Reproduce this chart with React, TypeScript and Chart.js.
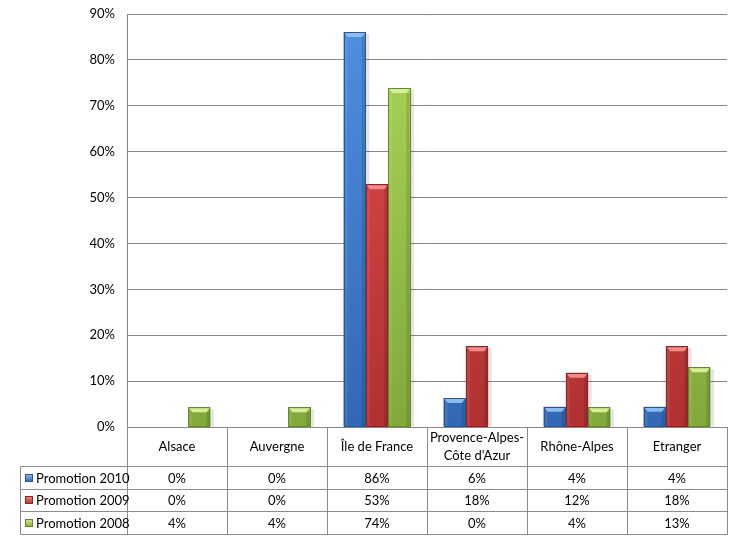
import { useEffect, useRef } from 'react';
import { Chart, registerables } from 'chart.js';

Chart.register(...registerables);

const categories: string[][] = [
  ['Alsace'],
  ['Auvergne'],
  ['Île de France'],
  ['Provence-Alpes-', "Côte d'Azur"],
  ['Rhône-Alpes'],
  ['Etranger'],
];
const seriesNames = ['Promotion 2010', 'Promotion 2009', 'Promotion 2008'];
const promo2010 = [0, 0, 86.1, 6.3, 4.4, 4.4];
const promo2009 = [0, 0, 52.9, 17.6, 11.8, 17.6];
const promo2008 = [4.3, 4.3, 73.9, 0, 4.3, 13.0];
const yMax = 90;
const yStep = 10;

const FONT = 'Lato, "Open Sans", "DejaVu Sans", sans-serif';

const palette = [
  { top: '#4F90E2', bottom: '#3268B4', border: '#2A5593', hi: '#8ABBF3' },
  { top: '#E44C4C', bottom: '#B03131', border: '#8C2424', hi: '#F28A8A' },
  { top: '#ACD659', bottom: '#82A83B', border: '#67872C', hi: '#D4EF96' },
];

const seriesValues = [promo2010, promo2009, promo2008];

const barStyle = {
  id: 'barStyle',
  beforeDatasetsDraw(chart: any) {
    const ctx = chart.ctx;
    ctx.save();
    chart.data.datasets.forEach((ds: any, di: number) => {
      const meta = chart.getDatasetMeta(di);
      meta.data.forEach((el: any, i: number) => {
        if (!ds.data[i]) return;
        const p = el.getProps(['x', 'y', 'base', 'width'], true);
        const l = p.x - p.width / 2;
        ctx.fillStyle = 'rgba(0,0,0,0.10)';
        ctx.fillRect(l + 2, p.y + 2, p.width + 1.5, p.base - p.y - 2);
      });
    });
    ctx.restore();
  },
  afterDatasetsDraw(chart: any) {
    const ctx = chart.ctx;
    ctx.save();
    chart.data.datasets.forEach((ds: any, di: number) => {
      const meta = chart.getDatasetMeta(di);
      const c = palette[di];
      meta.data.forEach((el: any, i: number) => {
        if (!ds.data[i]) return;
        const p = el.getProps(['x', 'y', 'base', 'width'], true);
        const l = p.x - p.width / 2;
        const r = p.x + p.width / 2;
        const h = p.base - p.y;
        const bev = Math.min(4, h / 2);
        ctx.fillStyle = c.hi;
        ctx.beginPath();
        ctx.moveTo(l + 1, p.y + 1);
        ctx.lineTo(r - 1, p.y + 1);
        ctx.lineTo(r - 4, p.y + bev + 1);
        ctx.lineTo(l + 4, p.y + bev + 1);
        ctx.closePath();
        ctx.fill();
        ctx.fillStyle = 'rgba(0,0,0,0.12)';
        ctx.fillRect(r - 4, p.y + bev + 1, 3, h - bev - 1);
        ctx.fillStyle = 'rgba(255,255,255,0.08)';
        ctx.fillRect(l + 1, p.y + bev + 1, 3, h - bev - 1);
        ctx.strokeStyle = c.border;
        ctx.lineWidth = 1;
        ctx.strokeRect(Math.round(l) + 0.5, Math.round(p.y) + 0.5, Math.round(r) - Math.round(l) - 1, Math.round(p.base) - Math.round(p.y) - 1);
      });
    });
    ctx.restore();
  },
};

const dataTable = {
  id: 'dataTable',
  afterDraw(chart: any) {
    const ctx = chart.ctx;
    const x = chart.scales.x;
    const area = chart.chartArea;
    const n = categories.length;
    const step = (x.right - x.left) / n;
    const top = Math.round(area.bottom);
    const headerBottom = top + 39;
    const rowH = 22.7;
    const rows = [headerBottom, headerBottom + rowH, headerBottom + 2 * rowH, headerBottom + 3 * rowH].map(Math.round);
    const legendLeft = 20;
    ctx.save();
    ctx.strokeStyle = '#8C8C8C';
    ctx.lineWidth = 1;
    ctx.beginPath();
    for (let i = 0; i <= n; i++) {
      const bx = Math.round(x.left + i * step) + 0.5;
      ctx.moveTo(bx, top);
      ctx.lineTo(bx, rows[3] + 0.5);
    }
    rows.forEach((ry) => {
      ctx.moveTo(legendLeft + 0.5, ry + 0.5);
      ctx.lineTo(Math.round(x.right) + 0.5, ry + 0.5);
    });
    ctx.moveTo(legendLeft + 0.5, rows[0] + 0.5);
    ctx.lineTo(legendLeft + 0.5, rows[3] + 0.5);
    ctx.stroke();

    ctx.fillStyle = '#000';
    ctx.font = `13px ${FONT}`;
    ctx.textAlign = 'center';
    ctx.textBaseline = 'middle';
    categories.forEach((lines, i) => {
      const cx = x.left + (i + 0.5) * step;
      const cy = (top + headerBottom) / 2;
      const lh = 18;
      lines.forEach((t, k) => {
        ctx.fillText(t, cx, cy + (k - (lines.length - 1) / 2) * lh);
      });
    });
    seriesValues.forEach((vals, si) => {
      const cy = (rows[si] + rows[si + 1]) / 2 + 1;
      vals.forEach((v, i) => {
        const cx = x.left + (i + 0.5) * step;
        ctx.fillStyle = '#000';
        ctx.fillText(Math.round(v) + '%', cx, cy);
      });
      const c = palette[si];
      const kx = legendLeft + 5;
      const ky = Math.round(cy - 5);
      const g = ctx.createLinearGradient(0, ky, 0, ky + 8);
      g.addColorStop(0, c.hi);
      g.addColorStop(1, c.bottom);
      ctx.fillStyle = g;
      ctx.fillRect(kx, ky, 8, 8);
      ctx.strokeStyle = c.border;
      ctx.strokeRect(kx + 0.5, ky + 0.5, 7, 7);
      ctx.fillStyle = '#000';
      ctx.textAlign = 'left';
      ctx.fillText(seriesNames[si], legendLeft + 16, cy);
      ctx.textAlign = 'center';
    });
    ctx.restore();
  },
};

export default function App() {
  const ref = useRef<HTMLCanvasElement>(null);
  useEffect(() => {
    if (!ref.current) return;
    const makeFill = (di: number) => (context: any) => {
      const chart = context.chart;
      const a = chart.chartArea;
      const c = palette[di];
      if (!a) return c.top;
      const g = chart.ctx.createLinearGradient(0, a.top, 0, a.bottom);
      g.addColorStop(0, c.top);
      g.addColorStop(1, c.bottom);
      return g;
    };
    const chart = new Chart(ref.current, {
      type: 'bar',
      data: {
        labels: categories.map((c) => c.join(' ')),
        datasets: seriesValues.map((vals, di) => ({
          label: seriesNames[di],
          data: vals,
          backgroundColor: makeFill(di),
          borderWidth: 0,
          barPercentage: 1,
          categoryPercentage: 0.67,
        })),
      },
      options: {
        responsive: false,
        animation: false,
        layout: { padding: { top: 14, right: 14, bottom: 112, left: 0 } },
        plugins: { legend: { display: false }, tooltip: { enabled: false } },
        scales: {
          x: { display: false },
          y: {
            min: 0,
            max: yMax,
            ticks: {
              stepSize: yStep,
              padding: 12,
              color: '#000',
              font: { size: 13, family: FONT },
              callback: (v: any) => v + '%',
            },
            grid: { color: '#868686', drawTicks: false },
            border: { display: true, color: '#868686' },
            afterFit: (s: any) => {
              s.width = 127;
              s.paddingTop = 0;
              s.paddingBottom = 0;
            },
          },
        },
      },
      plugins: [barStyle, dataTable],
    });
    return () => chart.destroy();
  }, []);
  return (
    <canvas
      ref={ref}
      width={741}
      height={539}
      style={{ position: 'fixed', left: 0, top: 0, width: 741, height: 539, background: '#fff' }}
    />
  );
}
